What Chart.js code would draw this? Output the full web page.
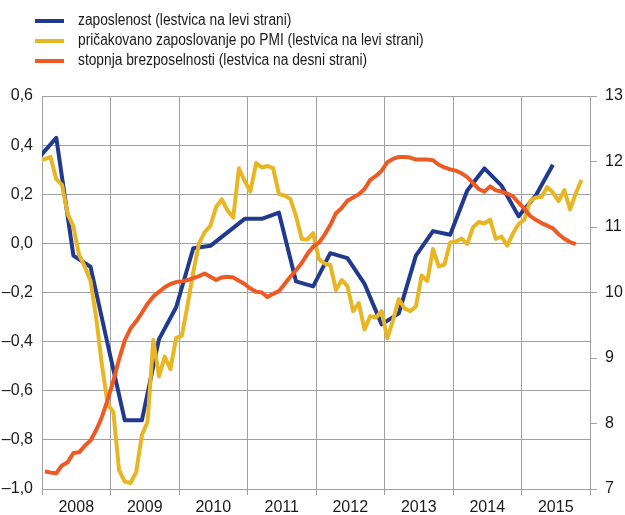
<!DOCTYPE html>
<html>
<head>
<meta charset="utf-8">
<script src="https://cdn.jsdelivr.net/npm/chart.js@4/dist/chart.umd.min.js"></script>
<style>
  body { margin: 0; background: #fff; }
  #wrap { position: relative; width: 625px; height: 515px; }
  #legend { position: absolute; left: 35px; top: 10px; font: 16px "Liberation Sans", Arial, sans-serif; color: #1a1a1a; }
  .row { position: relative; height: 20px; line-height: 20px; white-space: nowrap; }
  .row span.line { position: absolute; left: 0; top: 9px; width: 29px; height: 4px; }
  .row span.txt { position: absolute; left: 43px; top: 0; transform: scaleX(0.86); transform-origin: 0 50%; }
</style>
</head>
<body>
<div id="wrap">
  <canvas id="chart" width="625" height="515"></canvas>
  <div id="legend"></div>
</div>
<script>
// ------------------------
// Data
// ------------------------

const years = ["2008", "2009", "2010", "2011", "2012", "2013", "2014", "2015"];

const seriesLabels = [
    "zaposlenost (lestvica na levi strani)",
    "pričakovano zaposlovanje po PMI (lestvica na levi strani)",
    "stopnja brezposelnosti (lestvica na desni strani)"
];

// quarterly, Q4 2007 .. Q2 2015 (plotted at last month of quarter)
const employmentFirstMonth = -1;   // months from Jan 2008 (Dec 2007)
const employment = [
    0.35, 0.43, -0.05, -0.095, -0.41, -0.72, -0.72, -0.39, -0.26, -0.02,
    -0.01, 0.045, 0.10, 0.10, 0.125, -0.155, -0.175, -0.04, -0.06, -0.165,
    -0.33, -0.285, -0.05, 0.05, 0.035, 0.215, 0.305, 0.235, 0.11, 0.195,
    0.32
];

// monthly, Dec 2007 .. Nov 2015
const pmiFirstMonth = -1;
const pmiEmployment = [
    0.339, 0.343, 0.352, 0.261, 0.238, 0.120, 0.068, -0.047, -0.095, -0.153,
    -0.304, -0.495, -0.654, -0.687, -0.923, -0.970, -0.976, -0.931, -0.780, -0.726,
    -0.393, -0.542, -0.461, -0.512, -0.385, -0.377, -0.251, -0.117, 0.0, 0.046,
    0.071, 0.148, 0.179, 0.134, 0.105, 0.306, 0.254, 0.211, 0.327, 0.309,
    0.315, 0.306, 0.201, 0.195, 0.181, 0.111, 0.018, 0.016, 0.042, -0.064,
    -0.082, -0.088, -0.190, -0.149, -0.174, -0.276, -0.243, -0.351, -0.296, -0.302,
    -0.276, -0.387, -0.312, -0.227, -0.265, -0.276, -0.257, -0.131, -0.153, -0.023,
    -0.094, -0.086, 0.004, 0.008, 0.020, -0.003, 0.065, 0.087, 0.081, 0.097,
    0.018, 0.028, -0.009, 0.040, 0.079, 0.097, 0.172, 0.187, 0.189, 0.229,
    0.207, 0.172, 0.217, 0.138, 0.203, 0.258
];

// monthly, Jan 2008 .. Oct 2015
const unemploymentFirstMonth = 0;
const unemployment = [
    7.27, 7.25, 7.24, 7.36, 7.41, 7.55, 7.56, 7.66, 7.74, 7.90,
    8.10, 8.36, 8.65, 8.98, 9.27, 9.45, 9.56, 9.69, 9.83, 9.94,
    10.01, 10.08, 10.13, 10.16, 10.17, 10.19, 10.22, 10.25, 10.29, 10.24,
    10.19, 10.23, 10.24, 10.23, 10.18, 10.13, 10.06, 10.01, 10.00, 9.93,
    9.98, 10.02, 10.13, 10.24, 10.34, 10.45, 10.59, 10.70, 10.76, 10.88,
    11.03, 11.21, 11.29, 11.40, 11.45, 11.50, 11.58, 11.72, 11.78, 11.86,
    11.99, 12.04, 12.07, 12.07, 12.06, 12.03, 12.03, 12.03, 12.02, 11.95,
    11.91, 11.88, 11.86, 11.82, 11.76, 11.67, 11.58, 11.54, 11.62, 11.56,
    11.54, 11.51, 11.47, 11.37, 11.28, 11.17, 11.11, 11.06, 11.02, 10.98,
    10.89, 10.82, 10.77, 10.74
];

const leftTicks = [-1.0, -0.8, -0.6, -0.4, -0.2, 0.0, 0.2, 0.4, 0.6];
const rightTicks = [7, 8, 9, 10, 11, 12, 13];

const colors = ["#21398f", "#e8b523", "#ee5a24"];

// ------------------------
// Helpers
// ------------------------

// month index -> point at middle of that month
function toPoints(values, firstMonth, step) {
    return values.map((v, i) => ({ x: firstMonth + i * step + 0.5, y: v }));
}

function fmt(v) {
    const s = Math.abs(v).toFixed(1).replace(".", ",");
    return (v < -1e-9 ? "\u2013" : "") + s;
}

const gridColor = "#a0a0a0";
const font = { family: "'Liberation Sans', Arial, sans-serif", size: 16 };

// ------------------------
// Legend
// ------------------------

const legend = document.getElementById("legend");
seriesLabels.forEach((label, i) => {
    const row = document.createElement("div");
    row.className = "row";
    row.innerHTML = `<span class="line" style="background:${colors[i]}"></span><span class="txt"></span>`;
    row.querySelector(".txt").textContent = label;
    legend.appendChild(row);
});

// ------------------------
// Chart
// ------------------------

new Chart(document.getElementById("chart"), {

    type: "line",

    data: {
        datasets: [
            {
                label: seriesLabels[0],
                data: toPoints(employment, employmentFirstMonth, 3),
                borderColor: colors[0],
                yAxisID: "yL",
                order: 3
            },
            {
                label: seriesLabels[1],
                data: toPoints(pmiEmployment, pmiFirstMonth, 1),
                borderColor: colors[1],
                yAxisID: "yL",
                order: 2
            },
            {
                label: seriesLabels[2],
                data: toPoints(unemployment, unemploymentFirstMonth, 1),
                borderColor: colors[2],
                yAxisID: "yR",
                order: 1
            }
        ]
    },

    options: {

        responsive: false,
        animation: false,
        devicePixelRatio: 1,

        datasets: {
            line: {
                borderWidth: 4,
                pointRadius: 0,
                tension: 0,
                borderJoinStyle: "round",
                clip: 0
            }
        },

        layout: { padding: { top: 96, left: 0, right: 0, bottom: 0 } },

        plugins: {
            legend: { display: false },
            tooltip: { enabled: false }
        },

        scales: {

            x: {
                type: "linear",
                min: 0,
                max: years.length * 12,
                afterBuildTicks: scale => {
                    const t = [];
                    for (let i = 0; i <= years.length * 12; i += 6) t.push({ value: i });
                    scale.ticks = t;
                },
                afterFit: scale => { scale.height = 26; },
                ticks: {
                    autoSkip: false,
                    maxRotation: 0,
                    padding: 3,
                    color: "#1a1a1a",
                    font: font,
                    callback: v => (v % 12 === 6 ? years[(v - 6) / 12] : "")
                },
                grid: {
                    color: c => (c.tick && c.tick.value % 12 === 0 ? gridColor : "rgba(0,0,0,0)"),
                    tickColor: c => (c.tick && c.tick.value % 12 === 0 ? gridColor : "rgba(0,0,0,0)"),
                    tickLength: 6,
                    lineWidth: 1
                },
                border: { color: gridColor }
            },

            yL: {
                position: "left",
                min: leftTicks[0],
                max: leftTicks[leftTicks.length - 1],
                afterBuildTicks: scale => { scale.ticks = leftTicks.map(v => ({ value: v })); },
                afterFit: scale => { scale.width = 42; },
                ticks: {
                    padding: 9,
                    color: "#1a1a1a",
                    font: font,
                    callback: v => fmt(v)
                },
                grid: { color: gridColor, drawTicks: false, lineWidth: 1 },
                border: { color: gridColor }
            },

            yR: {
                position: "right",
                min: rightTicks[0],
                max: rightTicks[rightTicks.length - 1],
                afterBuildTicks: scale => { scale.ticks = rightTicks.map(v => ({ value: v })); },
                afterFit: scale => { scale.width = 35; },
                ticks: {
                    padding: 8,
                    color: "#1a1a1a",
                    font: font
                },
                grid: { drawOnChartArea: false, color: gridColor, tickLength: 7 },
                border: { color: gridColor }
            }

        }

    }

});
</script>
</body>
</html>
